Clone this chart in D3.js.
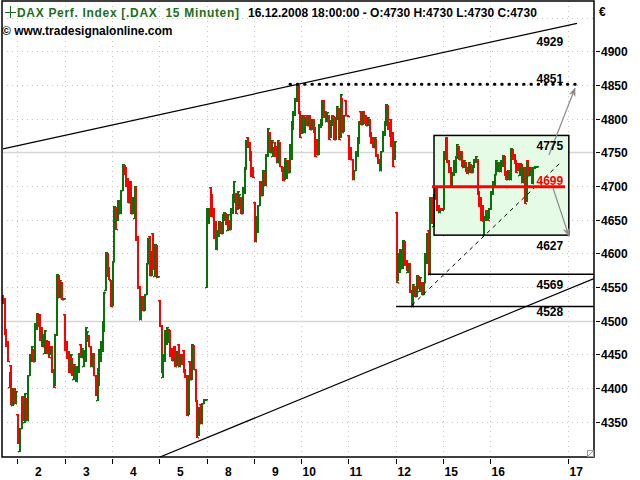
<!DOCTYPE html>
<html><head><meta charset="utf-8">
<script src="https://cdn.jsdelivr.net/npm/d3@7"></script>
<style>
body{margin:0;background:#fff}
svg{display:block}
text{font-family:"Liberation Sans",Arial,Helvetica,sans-serif;font-weight:bold;font-size:12px}
</style>
</head><body>
<svg id="chart" width="640" height="480"></svg>
<script>
// ---------------- DATA ----------------
const dayLabels = ['2','3','4','5','8','9','10','11','12','15','16'];
const futureDayLabel = '17';
const futureDayPos = 11.64;          // position of the projected day tick, in trading-day units
const barsPerDay = 28;
const firstDayVisibleBars = 9;       // bars of Dec 1 still visible at the left edge

const opens = [
  // Dec 1 (partial)
  4538,4534,4488,4470,4402,4434,4375,4400,4378,
  // Dec 2
  4362,4306,4340,4388,4350,4385,4352,4420,4440,4458,4440,4488,4512,4510,4490,4464,4452,4471,4470,4450,4462,4428,4405,4478,4568,4535,4558,4532,
  // Dec 3
  4510,4470,4455,4426,4445,4414,4432,4412,4424,4466,4448,4432,4440,4470,4478,4462,4432,4452,4420,4382,4405,4440,4455,4485,4545,4600,4580,4560,
  // Dec 4
  4524,4588,4669,4650,4678,4660,4694,4731,4728,4712,4676,4706,4660,4652,4699,4625,4552,4502,4536,4516,4540,4585,4625,4568,4630,4566,4612,4565,
  // Dec 5
  4531,4494,4416,4440,4466,4468,4486,4460,4442,4462,4434,4466,4432,4450,4456,4428,4420,4362,4440,4414,4464,4428,4382,4330,4376,4348,4378,4382,
  // Dec 8
  4550,4645,4698,4688,4668,4648,4608,4626,4646,4630,4650,4660,4634,4650,4636,4660,4676,4690,4666,4668,4684,4660,4690,4725,4772,4766,4752,4728,
  // Dec 9
  4676,4618,4632,4672,4706,4686,4722,4702,4745,4780,4750,4744,4765,4760,4736,4766,4730,4728,4710,4712,4738,4720,4740,4784,4806,4826,4850,4812,
  // Dec 10
  4778,4805,4780,4806,4790,4806,4784,4800,4788,4770,4748,4788,4790,4828,4812,4796,4806,4772,4790,4804,4770,4800,4816,4772,4830,4782,4828,4806,
  // Dec 11
  4776,4758,4740,4710,4724,4745,4764,4812,4792,4812,4806,4790,4800,4780,4772,4760,4770,4748,4740,4724,4752,4776,4790,4820,4795,4800,4780,4740,
  // Dec 12
  4662,4560,4572,4606,4578,4618,4590,4572,4585,4545,4522,4552,4537,4566,4544,4558,4540,4558,4585,4635,4570,4684,4640,4680,4700,4672,4662,4668,
  // Dec 15
  4666,4740,4772,4738,4728,4700,4716,4720,4742,4760,4740,4752,4728,4736,4728,4720,4732,4720,4728,4736,4740,4692,4684,4672,4627,4650,4664,4652,
  // Dec 16
  4666,4688,4700,4718,4722,4734,4722,4730,4745,4722,4710,4724,4710,4755,4748,4738,4734,4716,4732,4706,4728,4678,4738,4716,4726,4706,4726,4730
];
const closes = [
  // Dec 1 (partial)
  4526,4480,4462,4440,4424,4376,4400,4378,4396,
  // Dec 2
  4318,4340,4386,4352,4392,4352,4420,4450,4462,4440,4496,4512,4492,4472,4462,4480,4486,4452,4446,4462,4424,4402,4480,4570,4535,4560,4532,4533,
  // Dec 3
  4456,4445,4424,4450,4420,4436,4410,4432,4452,4446,4460,4456,4490,4484,4462,4432,4452,4420,4390,4430,4458,4470,4500,4542,4602,4566,4562,4522,
  // Dec 4
  4588,4670,4636,4679,4660,4694,4733,4718,4700,4676,4708,4660,4684,4700,4620,4548,4502,4535,4516,4540,4585,4622,4568,4604,4576,4614,4566,4566,
  // Dec 5
  4492,4424,4450,4486,4490,4488,4448,4442,4462,4432,4455,4432,4450,4436,4424,4416,4360,4420,4414,4465,4428,4380,4328,4372,4348,4378,4384,4383,
  // Dec 8
  4668,4668,4656,4656,4622,4606,4634,4648,4630,4658,4662,4644,4658,4636,4668,4688,4708,4660,4692,4688,4660,4698,4728,4768,4758,4738,4715,4714,
  // Dec 9
  4618,4656,4672,4708,4686,4724,4702,4748,4786,4750,4768,4758,4744,4735,4768,4730,4722,4709,4742,4738,4720,4762,4797,4812,4830,4851,4808,4772,
  // Dec 10
  4806,4780,4802,4790,4804,4784,4800,4780,4745,4748,4792,4800,4828,4802,4796,4810,4770,4798,4805,4770,4802,4818,4770,4836,4780,4806,4806,4804,
  // Dec 11
  4740,4740,4710,4724,4752,4772,4797,4792,4810,4794,4790,4803,4774,4764,4758,4772,4744,4734,4723,4752,4782,4797,4822,4784,4774,4760,4730,4767,
  // Dec 12
  4558,4600,4606,4580,4620,4582,4575,4586,4542,4522,4555,4537,4568,4548,4565,4540,4558,4600,4630,4570,4684,4645,4688,4700,4665,4662,4668,4664,
  // Dec 15
  4752,4773,4736,4720,4700,4720,4738,4744,4763,4740,4752,4730,4739,4722,4719,4736,4720,4731,4740,4745,4688,4670,4650,4648,4656,4664,4650,4668,
  // Dec 16
  4692,4708,4718,4738,4736,4722,4739,4746,4716,4711,4724,4710,4756,4740,4734,4720,4724,4734,4706,4728,4675,4738,4716,4728,4704,4728,4730,4730
];

const priceTicks = [4350,4400,4450,4500,4550,4600,4650,4700,4750,4800,4850,4900];
const gridValues = [4350,4400,4450,4500,4550,4600,4650,4700,4750,4800,4850,4900,4950];
const solidGridValues = [4500,4750];

// drawing annotations, as [day position, price]
const upperTrend = [[-0.302, 4755], [11.833, 4941.5]];
const lowerTrend = [[3.017, 4297.6], [12.192, 4562.6]];
const supportDashed = [[8.345, 4523], [11.474, 4734]];
const resistanceDotted = {from: 5.765, to: 11.896, value: 4851};
const rangeBox = {from: 8.81, to: 11.66, top: 4775, bottom: 4627};
const pivotLine = {from: 8.767, to: 11.579, value: 4699};
const supportLines = [{from: 8.683, value: 4569}, {from: 8.006, value: 4521}];
const arrowUp = [[11.24, 4746], [11.79, 4845]];
const arrowDown = [[11.325, 4697], [11.66, 4626]];
const levelLabels = [
  {text:'4929', value:4929, below:true,  red:false},
  {text:'4851', value:4851, below:false, red:false},
  {text:'4775', value:4775, below:true,  red:false},
  {text:'4699', value:4699, below:false, red:true},
  {text:'4627', value:4627, below:true,  red:false},
  {text:'4569', value:4569, below:true,  red:false},
  {text:'4528', value:4528, below:true,  red:false}
];
const titleSymbol = 'DAX Perf. Index [.DAX  15 Minuten]';
const titleInfo = '16.12.2008 18:00:00 - O:4730 H:4730 L:4730 C:4730';
const copyright = '\u00A9 www.tradesignalonline.com';

// ---------------- CHART ----------------
const plot = {left: 2, right: 594, top: 1, bottom: 457};
const UP = '#087208', DOWN = '#ff0000';

const svg = d3.select('#chart');
const x = d3.scaleLinear().domain([-0.3235, 12.1924]).range([plot.left, plot.right]);
const y = d3.scaleLinear().domain([4297.6, 4974.6]).range([plot.bottom, plot.top]);

const defs = svg.append('defs');
defs.append('clipPath').attr('id','clip')
  .append('rect').attr('x',plot.left).attr('y',plot.top)
  .attr('width',plot.right-plot.left).attr('height',plot.bottom-plot.top);
defs.append('marker').attr('id','arr').attr('viewBox','0 0 10 10')
  .attr('refX',9).attr('refY',5).attr('markerWidth',10).attr('markerHeight',9)
  .attr('markerUnits','userSpaceOnUse').attr('orient','auto')
  .append('path').attr('d','M0,1 L10,5 L0,9 L3,5 Z').attr('fill','#8c8c8c');

const g = svg.append('g').attr('clip-path','url(#clip)');

// grid
const tickDays = dayLabels.map((d,i)=>({label:d, pos:i})).concat([{label:futureDayLabel,pos:futureDayPos}]);
g.selectAll('.vgrid').data(tickDays).enter().append('line')
  .attr('x1',d=>Math.round(x(d.pos))+0.5).attr('x2',d=>Math.round(x(d.pos))+0.5)
  .attr('y1',plot.top).attr('y2',plot.bottom)
  .attr('stroke','#c4c4c4').attr('stroke-width',1).attr('stroke-dasharray','1,4');
g.selectAll('.hgrid').data(gridValues.filter(v=>!solidGridValues.includes(v))).enter().append('line')
  .attr('x1',plot.left).attr('x2',plot.right)
  .attr('y1',d=>Math.round(y(d))+0.5).attr('y2',d=>Math.round(y(d))+0.5)
  .attr('stroke','#c4c4c4').attr('stroke-width',1).attr('stroke-dasharray','1,4');
g.selectAll('.sgrid').data(solidGridValues).enter().append('line')
  .attr('x1',plot.left).attr('x2',plot.right)
  .attr('y1',d=>Math.round(y(d))+0.5).attr('y2',d=>Math.round(y(d))+0.5)
  .attr('stroke','#d6d6d6').attr('stroke-width',1.5);

// range box fill
g.append('rect').attr('x',x(rangeBox.from)).attr('y',y(rangeBox.top))
  .attr('width',x(rangeBox.to)-x(rangeBox.from)).attr('height',y(rangeBox.bottom)-y(rangeBox.top))
  .attr('fill','#e6fbe6').attr('stroke','none');

// bars
const bars = opens.map((o,j)=>({i:j-firstDayVisibleBars, o, c:closes[j]}));
const barG = g.append('g');
bars.forEach(b=>{
  const xc = Math.round(x((b.i + 0.5)/barsPerDay));
  const hi = Math.max(b.o,b.c), lo = Math.min(b.o,b.c);
  const col = b.c >= b.o ? UP : DOWN;
  const yt = Math.round(y(hi)), yb = Math.round(y(lo));
  barG.append('rect').attr('x',xc-1).attr('y',yt).attr('width',2).attr('height',Math.max(2,yb-yt+1)).attr('fill',col);
  barG.append('rect').attr('x',xc-2).attr('y',Math.round(y(b.o))).attr('width',1).attr('height',1.5).attr('fill',col);
  barG.append('rect').attr('x',xc+1).attr('y',Math.round(y(b.c))).attr('width',1).attr('height',1.5).attr('fill',col);
});

// annotations
const line = d3.line().x(d=>x(d[0])).y(d=>y(d[1]));
g.append('path').attr('d',line(upperTrend)).attr('stroke','#000').attr('stroke-width',1.2).attr('fill','none');
g.append('path').attr('d',line(lowerTrend)).attr('stroke','#000').attr('stroke-width',1.2).attr('fill','none');
g.append('path').attr('d',line(supportDashed)).attr('stroke','#000').attr('stroke-width',1).attr('stroke-dasharray','4,4').attr('fill','none');
g.append('line').attr('x1',x(resistanceDotted.from)).attr('x2',x(resistanceDotted.to))
  .attr('y1',y(resistanceDotted.value)).attr('y2',y(resistanceDotted.value))
  .attr('stroke','#000').attr('stroke-width',3).attr('stroke-linecap','round').attr('stroke-dasharray','0.5,6.8');
g.append('rect').attr('x',x(rangeBox.from)).attr('y',y(rangeBox.top))
  .attr('width',x(rangeBox.to)-x(rangeBox.from)).attr('height',y(rangeBox.bottom)-y(rangeBox.top))
  .attr('fill','none').attr('stroke','#000').attr('stroke-width',1.5);
supportLines.forEach(s=>{
  g.append('line').attr('x1',x(s.from)).attr('x2',plot.right).attr('y1',y(s.value)).attr('y2',y(s.value))
    .attr('stroke','#000').attr('stroke-width',1.5);
});
g.append('line').attr('x1',x(pivotLine.from)).attr('x2',x(pivotLine.to))
  .attr('y1',y(pivotLine.value)).attr('y2',y(pivotLine.value))
  .attr('stroke','#ff0000').attr('stroke-width',3);
[arrowUp, arrowDown].forEach(a=>{
  g.append('path').attr('d',line(a)).attr('stroke','#8c8c8c').attr('stroke-width',1.2)
    .attr('fill','none').attr('marker-end','url(#arr)');
});

// level labels
const labelX = 536.5;
levelLabels.forEach(l=>{
  g.append('text').attr('x',labelX).attr('y',y(l.value) + (l.below ? 14.5 : -1.5))
    .attr('fill', l.red ? '#ff0000' : '#000').text(l.text);
});

// header
const hdr = svg.append('g');
hdr.append('line').attr('x1',10.5).attr('x2',10.5).attr('y1',6).attr('y2',18).attr('stroke','#1c6e1c').attr('stroke-width',1);
hdr.append('line').attr('x1',5).attr('x2',16).attr('y1',12.5).attr('y2',12.5).attr('stroke','#1c6e1c').attr('stroke-width',1);
hdr.append('text').attr('x',17).attr('y',17).attr('fill','#1c6e1c').style('white-space','pre')
  .attr('textLength',222).attr('lengthAdjust','spacing').text(titleSymbol);
hdr.append('text').attr('x',248).attr('y',17).attr('fill','#000').text(titleInfo);
hdr.append('text').attr('x',2).attr('y',35).attr('fill','#000').text(copyright);

// frame
svg.append('rect').attr('x',plot.left).attr('y',plot.top)
  .attr('width',plot.right-plot.left).attr('height',plot.bottom-plot.top)
  .attr('fill','none').attr('stroke','#000').attr('stroke-width',1.5);
// resize glyph
svg.append('rect').attr('x',587.5).attr('y',450.5).attr('width',6).attr('height',6).attr('fill','#fff').attr('stroke','#999');
svg.append('line').attr('x1',588).attr('y1',456).attr('x2',593).attr('y2',451).attr('stroke','#999');

// right price axis
const yAxis = svg.append('g');
priceTicks.forEach(v=>{
  const yy = Math.round(y(v))+0.5;
  yAxis.append('line').attr('x1',596).attr('x2',600).attr('y1',yy).attr('y2',yy).attr('stroke','#000');
  yAxis.append('text').attr('x',601).attr('y',yy+4.5).attr('fill','#000').text(v);
});
yAxis.append('text').attr('x',599).attr('y',16).attr('fill','#000').text('\u20AC');

// bottom date axis
const xAxis = svg.append('g');
tickDays.forEach(d=>{
  const xx = Math.round(x(d.pos))+0.5;
  xAxis.append('line').attr('x1',xx).attr('x2',xx).attr('y1',459).attr('y2',464).attr('stroke','#000');
  xAxis.append('text').attr('x', xx + (d.label.length === 1 ? 17.5 : 1)).attr('y',475.5).attr('fill','#000').text(d.label);
});
</script>
</body></html>
